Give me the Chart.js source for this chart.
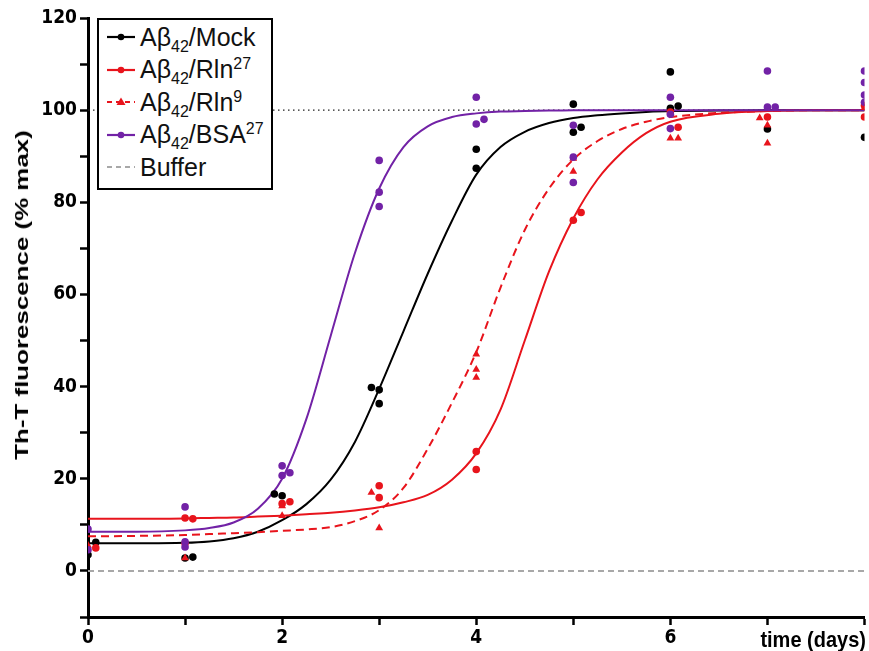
<!DOCTYPE html>
<html>
<head>
<meta charset="utf-8">
<title>Th-T fluorescence</title>
<script src="https://cdn.jsdelivr.net/npm/chart.js@4.4.0/dist/chart.umd.min.js"></script>
<style>
    body { margin: 0; background: #fff; }
    .wrap { position: relative; width: 869px; height: 651px; }
    .ytitle {
        position: absolute; left: 22px; top: 295px; white-space: nowrap;
        font: bold 18.5px "Liberation Sans", Arial, sans-serif; color: #000;
        transform: translate(-50%, -50%) rotate(-90deg) scaleX(1.4);
    }
    .xtitle {
        position: absolute; right: 3px; top: 628px; line-height: 20px; white-space: nowrap;
        font: bold 20px "Liberation Sans", Arial, sans-serif; color: #000;
        transform: scaleY(1.12); transform-origin: right center;
    }
    .legend {
        position: absolute; left: 97px; top: 18px; width: 176px; height: 172px;
        box-sizing: border-box; border: 2px solid #000; background: #fff;
        padding-top: 1px;
    }
    .legend div {
        display: flex; align-items: center; height: 32.5px;
        font: 25px "Liberation Sans", Arial, sans-serif; color: #111; white-space: nowrap;
    }
    .legend svg { margin-left: 8px; margin-right: 5px; flex: none; }
    .legend sub, .legend sup { font-size: 16px; line-height: 0; }
</style>
</head>
<body>
<div class="wrap">
    <canvas id="chart"></canvas>
    <div class="ytitle">Th-T fluorescence (% max)</div>
    <div class="xtitle">time (days)</div>
    <div class="legend"></div>
</div>
<script>
// measured points (x jitter as in the plot)
const mockDays = [0, 0.08, 1, 1.08, 1.92, 2, 2.92, 3, 3, 4, 4, 5, 5.08, 5, 6, 6, 6.08, 7, 8];
const mockVals = [3.5, 6.2, 2.8, 3, 16.7, 16.3, 39.8, 39.3, 36.3, 91.5, 87.4, 101.3, 96.3, 95.2, 108.3, 100.4, 100.9, 95.9, 94.1];

const rln27Days = [0.08, 1, 1.08, 1, 2.08, 2, 3, 3, 4, 4, 5.08, 5, 6.08, 6, 7, 8, 8];
const rln27Vals = [5, 11.5, 11.3, 6, 15, 14.6, 18.5, 15.9, 25.9, 22, 77.8, 76.1, 96.3, 99.6, 98.5, 98.5, 101];

const rln9Days = [0, 1, 2, 2, 2.92, 3, 4, 4, 4, 5, 5, 6, 6.08, 6.92, 7, 7, 8];
const rln9Vals = [5.5, 2.8, 14.1, 12, 17, 9.3, 47, 43.7, 42, 86.7, 89.5, 93.9, 93.9, 98.3, 96.7, 92.8, 100.5];

const bsaDays = [0, 0, 1, 1, 1, 2, 2, 2.08, 3, 3, 3, 4, 4, 4.08, 5, 5, 5, 6, 6, 6, 7, 7, 7.08, 8, 8, 8, 8];
const bsaVals = [9.1, 4.6, 13.9, 6.3, 5.2, 22.8, 20.7, 21.3, 89.1, 82.2, 79.1, 102.8, 97, 98, 96.7, 89.8, 84.3, 102.8, 99.1, 96, 108.5, 100.7, 100.7, 108.5, 106, 103.3, 101.7];

// fitted curves
const fitDays = [0, 0.5, 1, 1.25, 1.5, 1.75, 2, 2.25, 2.5, 2.75, 3, 3.25, 3.5, 3.75, 4, 4.25, 4.5, 4.75, 5, 5.25, 5.5, 5.75, 6, 6.5, 7, 7.5, 8];
const mockFit = [6, 6, 6.1, 6.4, 7.1, 8.5, 11, 14.5, 19.8, 28, 39.5, 52, 64.5, 76, 86, 92, 95.3, 97.2, 98.3, 98.9, 99.3, 99.6, 99.8, 99.9, 100, 100, 100];
const rln27Fit = [11.3, 11.3, 11.4, 11.5, 11.6, 11.8, 12, 12.3, 12.6, 13.1, 13.8, 14.9, 16.5, 19.8, 25.5, 35, 50, 65, 76.5, 85, 90.8, 95, 97.5, 99.2, 99.8, 100, 100];
const rln9Fit = [7.5, 7.6, 7.8, 8, 8.2, 8.4, 8.7, 9, 9.5, 10.8, 13.2, 18, 26.5, 36.5, 47.5, 61.5, 74, 83, 89.3, 93.3, 95.9, 97.5, 98.5, 99.4, 99.8, 100, 100];
const bsaFit = [8.5, 8.5, 8.8, 9.3, 10.5, 13.5, 20, 33, 51, 69, 83, 92, 96.5, 98.5, 99.3, 99.7, 99.8, 99.9, 100, 100, 100, 100, 100, 100, 100, 100, 100];

const refDays = [0, 8];
const bufferVals = [0, 0];
const maxVals = [100, 100];

const legendLabels = ["Aβ<sub>42</sub>/Mock", "Aβ<sub>42</sub>/Rln<sup>27</sup>", "Aβ<sub>42</sub>/Rln<sup>9</sup>", "Aβ<sub>42</sub>/BSA<sup>27</sup>", "Buffer"];

const black = "#000000";
const red = "#e8141c";
const purple = "#7222a6";
const grey = "#a8a8a8";

const toXY = (xs, ys) => xs.map((x, i) => ({ x: x, y: ys[i] }));

const pointSet = (label, xs, ys, color, style, order) => ({
    type: "scatter",
    label: label,
    data: toXY(xs, ys),
    backgroundColor: color,
    borderColor: color,
    pointStyle: style,
    pointRadius: style === "triangle" ? 4.5 : 3.8,
    pointBorderWidth: 0,
    order: order,
});

const curve = (label, xs, ys, color, dash, width, order) => ({
    type: "line",
    label: label,
    data: toXY(xs, ys),
    borderColor: color,
    borderWidth: width,
    borderDash: dash,
    pointRadius: 0,
    fill: false,
    cubicInterpolationMode: "monotone",
    order: order,
});

const data = {
    datasets: [
        curve("max", refDays, maxVals, "#222", [1.5, 3.5], 1.2, 20),
        curve("Buffer", refDays, bufferVals, grey, [6, 4], 2, 19),
        curve("Mock fit", fitDays, mockFit, black, [], 2, 12),
        curve("Rln27 fit", fitDays, rln27Fit, red, [], 2, 11),
        curve("Rln9 fit", fitDays, rln9Fit, red, [8, 5], 2, 10),
        curve("BSA fit", fitDays, bsaFit, purple, [], 2, 9),
        pointSet("Mock", mockDays, mockVals, black, "circle", 4),
        pointSet("Rln27", rln27Days, rln27Vals, red, "circle", 3),
        pointSet("Rln9", rln9Days, rln9Vals, red, "triangle", 2),
        pointSet("BSA27", bsaDays, bsaVals, purple, "circle", 1),
    ],
};

const tickFont = {
    family: "'Liberation Sans Narrow', 'Arial Narrow', 'DejaVu Sans Condensed', sans-serif",
    size: 19,
    weight: "bold",
};

const config = {
    type: "scatter",
    data: data,
    options: {
        responsive: true,
        maintainAspectRatio: false,
        animation: false,
        layout: { padding: { top: 18, right: 2, left: 0, bottom: 0 } },
        plugins: {
            legend: { display: false },
            tooltip: { enabled: false },
        },
        scales: {
            x: {
                type: "linear",
                min: 0,
                max: 8,
                ticks: {
                    stepSize: 1,
                    autoSkip: false,
                    maxRotation: 0,
                    padding: 2,
                    color: "#000",
                    font: tickFont,
                    callback: (v) => (v % 2 === 0 && v < 8 ? v : ""),
                },
                grid: { drawOnChartArea: false, tickLength: 8, tickWidth: 2.5, tickColor: "#000" },
                border: { display: true, color: "#000", width: 3 },
                afterFit: (s) => { s.height = 34; },
            },
            y: {
                type: "linear",
                min: -10,
                max: 120,
                ticks: {
                    stepSize: 10,
                    autoSkip: false,
                    padding: 3,
                    color: "#000",
                    font: tickFont,
                    callback: (v) => (v >= 0 && v % 20 === 0 ? v : ""),
                },
                grid: { drawOnChartArea: false, tickLength: 8, tickWidth: 2.5, tickColor: "#000" },
                border: { display: true, color: "#000", width: 3 },
                afterFit: (s) => { s.width = 88; },
            },
        },
    },
};

const chartD = document.getElementById("chart");
const myChart = new Chart(chartD, config);

const legendSamples = [
    { color: black, dash: "", marker: "circle" },
    { color: red, dash: "", marker: "circle" },
    { color: red, dash: "5 4", marker: "triangle" },
    { color: purple, dash: "", marker: "circle" },
    { color: grey, dash: "5 4", marker: "" },
];

const createLegend = () => {
    const legendArea = document.querySelector(".legend");
    legendLabels.forEach((label, index) => {
        const s = legendSamples[index];
        let mark = "";
        if (s.marker === "circle") mark = `<circle cx="14" cy="7" r="3.3" fill="${s.color}"/>`;
        if (s.marker === "triangle") mark = `<polygon points="14,2.5 18.5,10 9.5,10" fill="${s.color}"/>`;
        const div = document.createElement("div");
        div.innerHTML =
            `<svg width="28" height="14"><line x1="0" y1="7" x2="28" y2="7" stroke="${s.color}" stroke-width="2.2" stroke-dasharray="${s.dash}"/>${mark}</svg>` +
            `<span>${label}</span>`;
        legendArea.append(div);
    });
};
createLegend();
</script>
</body>
</html>
